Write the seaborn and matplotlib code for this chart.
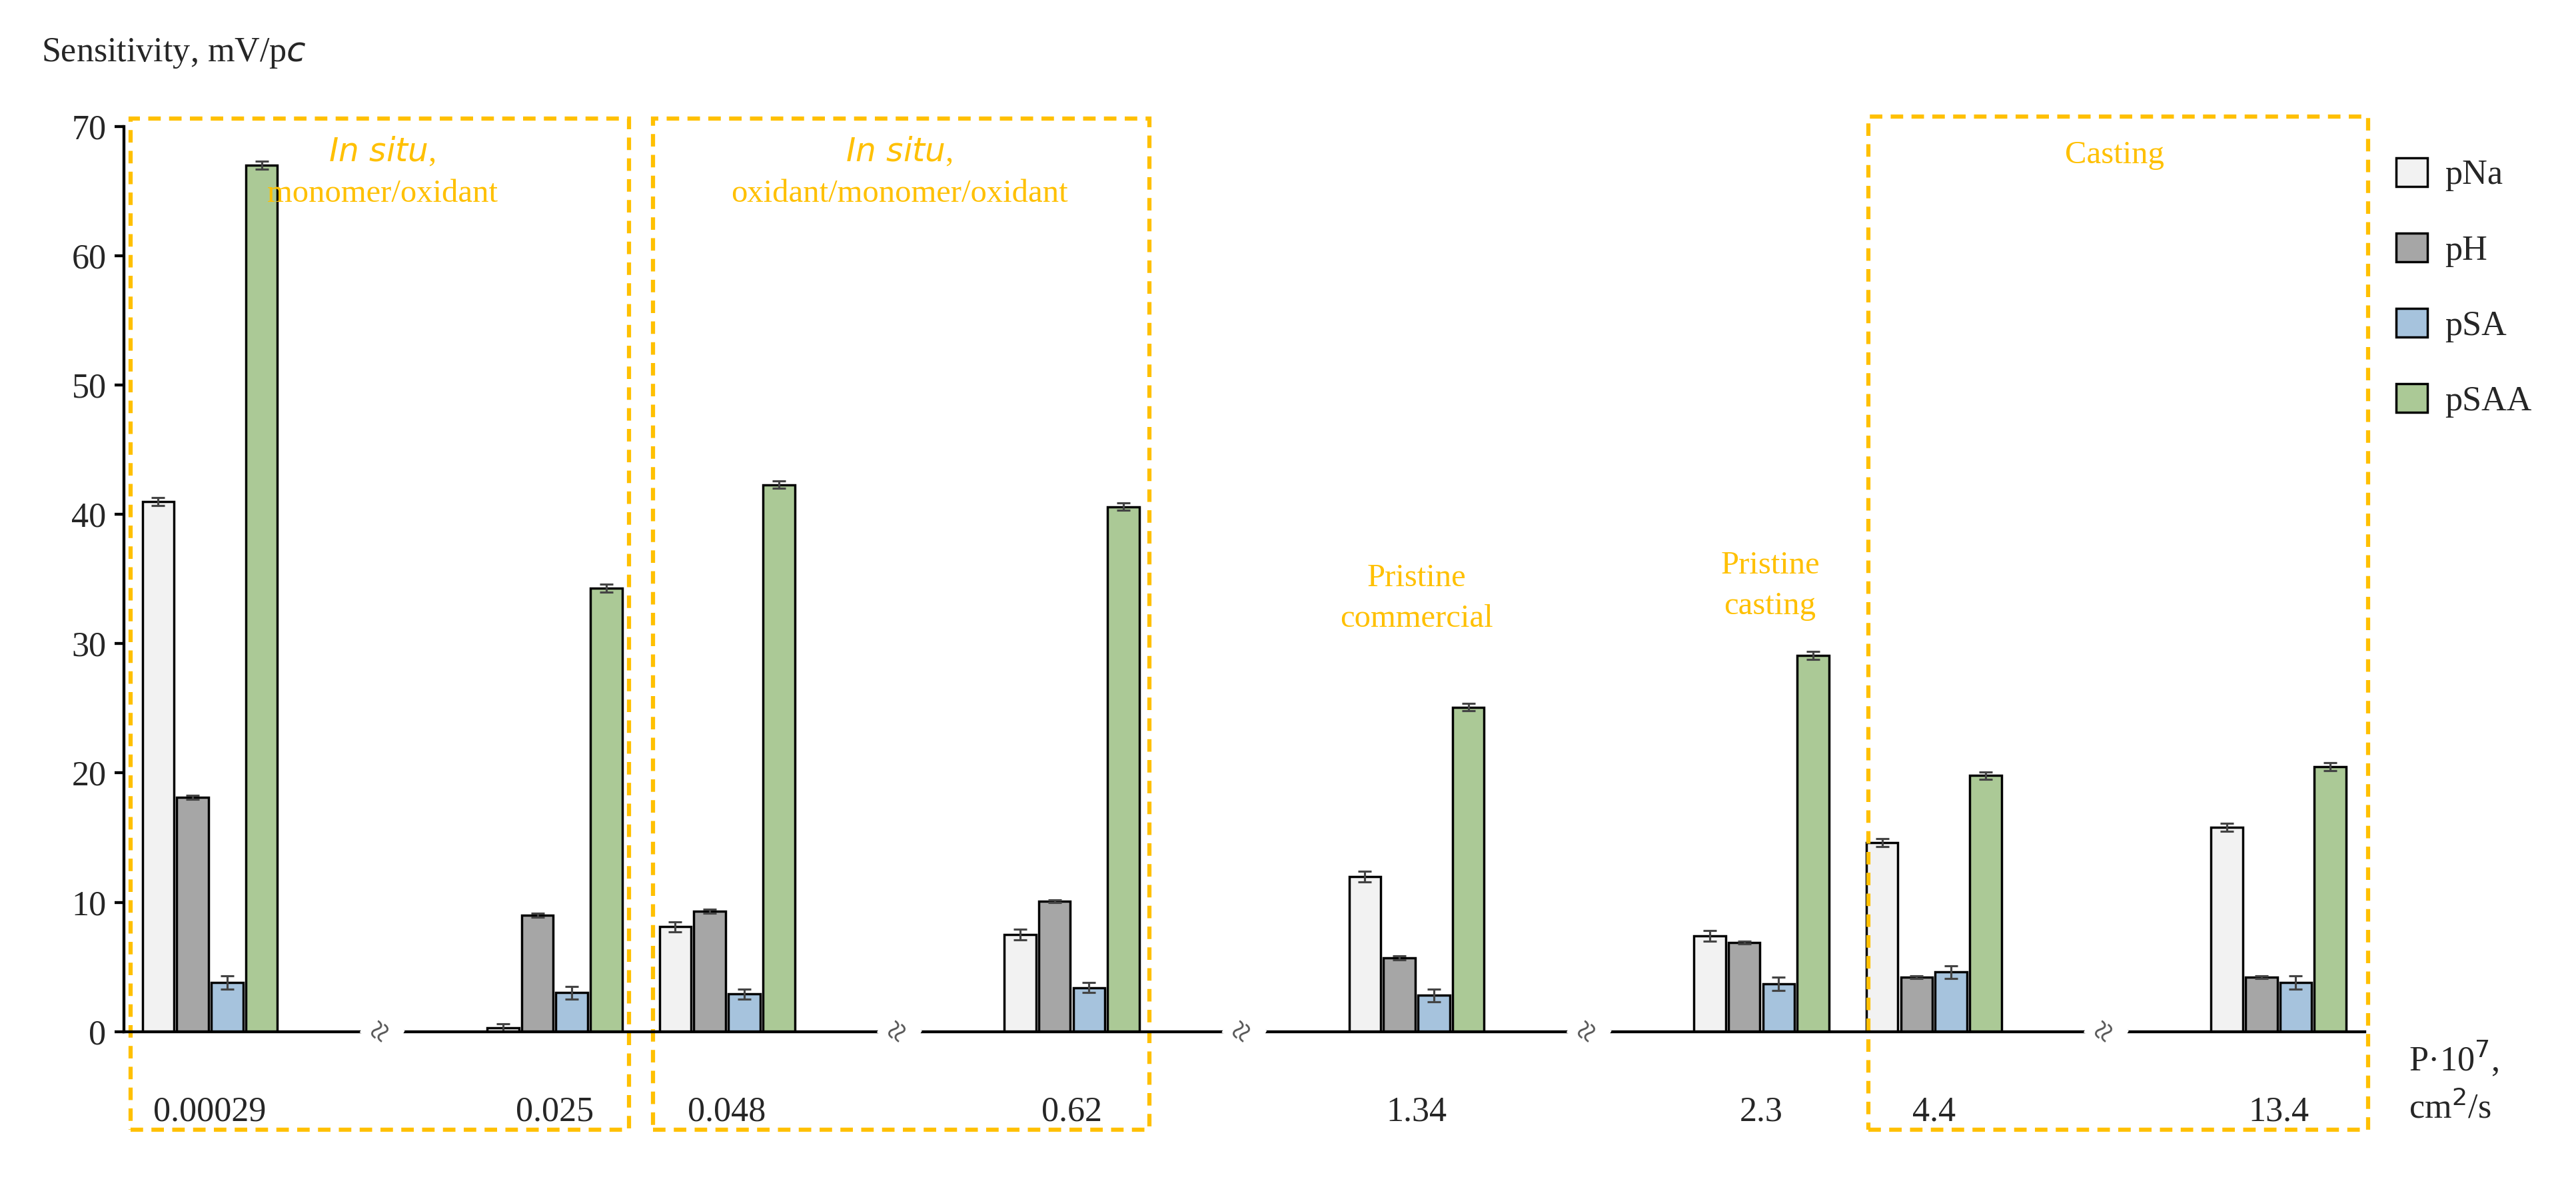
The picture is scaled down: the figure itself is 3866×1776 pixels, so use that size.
import matplotlib
matplotlib.use("Agg")
import matplotlib.pyplot as plt
import seaborn as sns
import pandas as pd
from matplotlib.patches import Rectangle

sns.set_theme(style="white")
plt.rcParams['font.family'] = ['Liberation Serif', 'DejaVu Serif']

slots = ["0.00029", "g1", "0.025", "0.048", "g2", "0.62", "g3", "1.34", "g4", "2.3", "4.4", "g5", "13.4"]
cats = ["0.00029", "0.025", "0.048", "0.62", "1.34", "2.3", "4.4", "13.4"]
series = ["pNa", "pH", "pSA", "pSAA"]
pNa = [41.0, 0.3, 8.1, 7.5, 12.0, 7.4, 14.6, 15.8]
pH = [18.1, 9.0, 9.3, 10.1, 5.7, 6.9, 4.2, 4.2]
pSA = [3.8, 3.0, 2.9, 3.4, 2.8, 3.7, 4.6, 3.8]
pSAA = [67.0, 34.3, 42.3, 40.6, 25.1, 29.1, 19.8, 20.5]
err_pNa = [0.3, 0.3, 0.4, 0.4, 0.4, 0.4, 0.3, 0.3]
err_pH = [0.15, 0.15, 0.15, 0.1, 0.15, 0.1, 0.1, 0.1]
err_pSA = [0.5, 0.5, 0.4, 0.4, 0.5, 0.5, 0.5, 0.5]
err_pSAA = [0.3, 0.3, 0.3, 0.3, 0.3, 0.3, 0.3, 0.3]
colors = ["#F2F2F2", "#A6A6A6", "#9DC3E6", "#A9D18E"]
orange = "#FFC000"

vals = {"pNa": pNa, "pH": pH, "pSA": pSA, "pSAA": pSAA}
errs = {"pNa": err_pNa, "pH": err_pH, "pSA": err_pSA, "pSAA": err_pSAA}
rows = []
for s in series:
    for c, v in zip(cats, vals[s]):
        rows.append({"P": c, "series": s, "value": v})
df = pd.DataFrame(rows)

fig = plt.figure(figsize=(3866/250, 1776/250), dpi=250)
ax = fig.add_axes([0.048, 0.128, 0.870, 0.765])
sns.barplot(data=df, x="P", y="value", hue="series", order=slots, hue_order=series,
            palette=colors, edgecolor="black", linewidth=1.0, width=0.8, gap=0.08,
            errorbar=None, ax=ax, legend=True)

bar_conts = list(ax.containers)[:len(series)]
for si, cont in enumerate(bar_conts):
    s = series[si]
    for bar in cont:
        h = bar.get_height()
        if h != h:
            continue
        xc = bar.get_x() + bar.get_width()/2
        slot = slots[int(round(xc))]
        if slot not in cats:
            continue
        e = errs[s][cats.index(slot)]
        ax.errorbar(xc, h, yerr=e, color="#444444", capsize=3, lw=0.9, capthick=0.9)

ax.set_xlim(-0.5, 12.5)
ax.set_ylim(0, 70)
ax.set_yticks(range(0, 71, 10))
ax.tick_params(axis='y', labelsize=15, left=True, length=4, color='black')
ax.set_xticks([slots.index(c) for c in cats])
ax.set_xticklabels(cats, fontsize=15)
ax.tick_params(axis='x', bottom=False, pad=22)
ax.set_xlabel(""); ax.set_ylabel("")
for sp in ["top", "right"]:
    ax.spines[sp].set_visible(False)
for sp in ["left", "bottom"]:
    ax.spines[sp].set_color("black")

for g in ["g1", "g2", "g3", "g4", "g5"]:
    x = slots.index(g)
    ax.text(x, 0, "≈", rotation=60, ha="center", va="center", fontsize=16,
            color="#555555", clip_on=False,
            bbox=dict(boxstyle="square,pad=0.05", fc="white", ec="none"))

for x0, x1, y1 in [(-0.46, 2.43, 70.6), (2.57, 5.45, 70.6), (9.62, 12.52, 70.8)]:
    ax.add_patch(Rectangle((x0, -7.6), x1 - x0, y1 + 7.6, fill=False, ec=orange,
                           ls=(0, (3, 2)), lw=1.8, clip_on=False))

ax.text(1.0, 66.5, "$\\it{In\\ situ}$,\nmonomer/oxidant", color=orange, ha="center", va="center", fontsize=14, linespacing=1.5)
ax.text(4.0, 66.5, "$\\it{In\\ situ}$,\noxidant/monomer/oxidant", color=orange, ha="center", va="center", fontsize=14, linespacing=1.5)
ax.text(11.05, 67.8, "Casting", color=orange, ha="center", va="center", fontsize=14)
ax.text(7.0, 33.5, "Pristine\ncommercial", color=orange, ha="center", va="center", fontsize=14, linespacing=1.5)
ax.text(9.05, 34.5, "Pristine\ncasting", color=orange, ha="center", va="center", fontsize=14, linespacing=1.5)

fig.text(0.016, 0.955, "Sensitivity, mV/p$\\it{c}$", fontsize=15, ha="left", va="center")
fig.text(0.935, 0.085, "P·10$^{7}$,\ncm$^{2}$/s", fontsize=15, ha="left", va="center", linespacing=1.5)

ax.legend(loc="upper left", bbox_to_anchor=(1.0, 1.0), frameon=False, fontsize=15,
          handlelength=0.9, handleheight=0.9, labelspacing=1.2, handletextpad=0.5)

fig.savefig("out.png", dpi=250)
